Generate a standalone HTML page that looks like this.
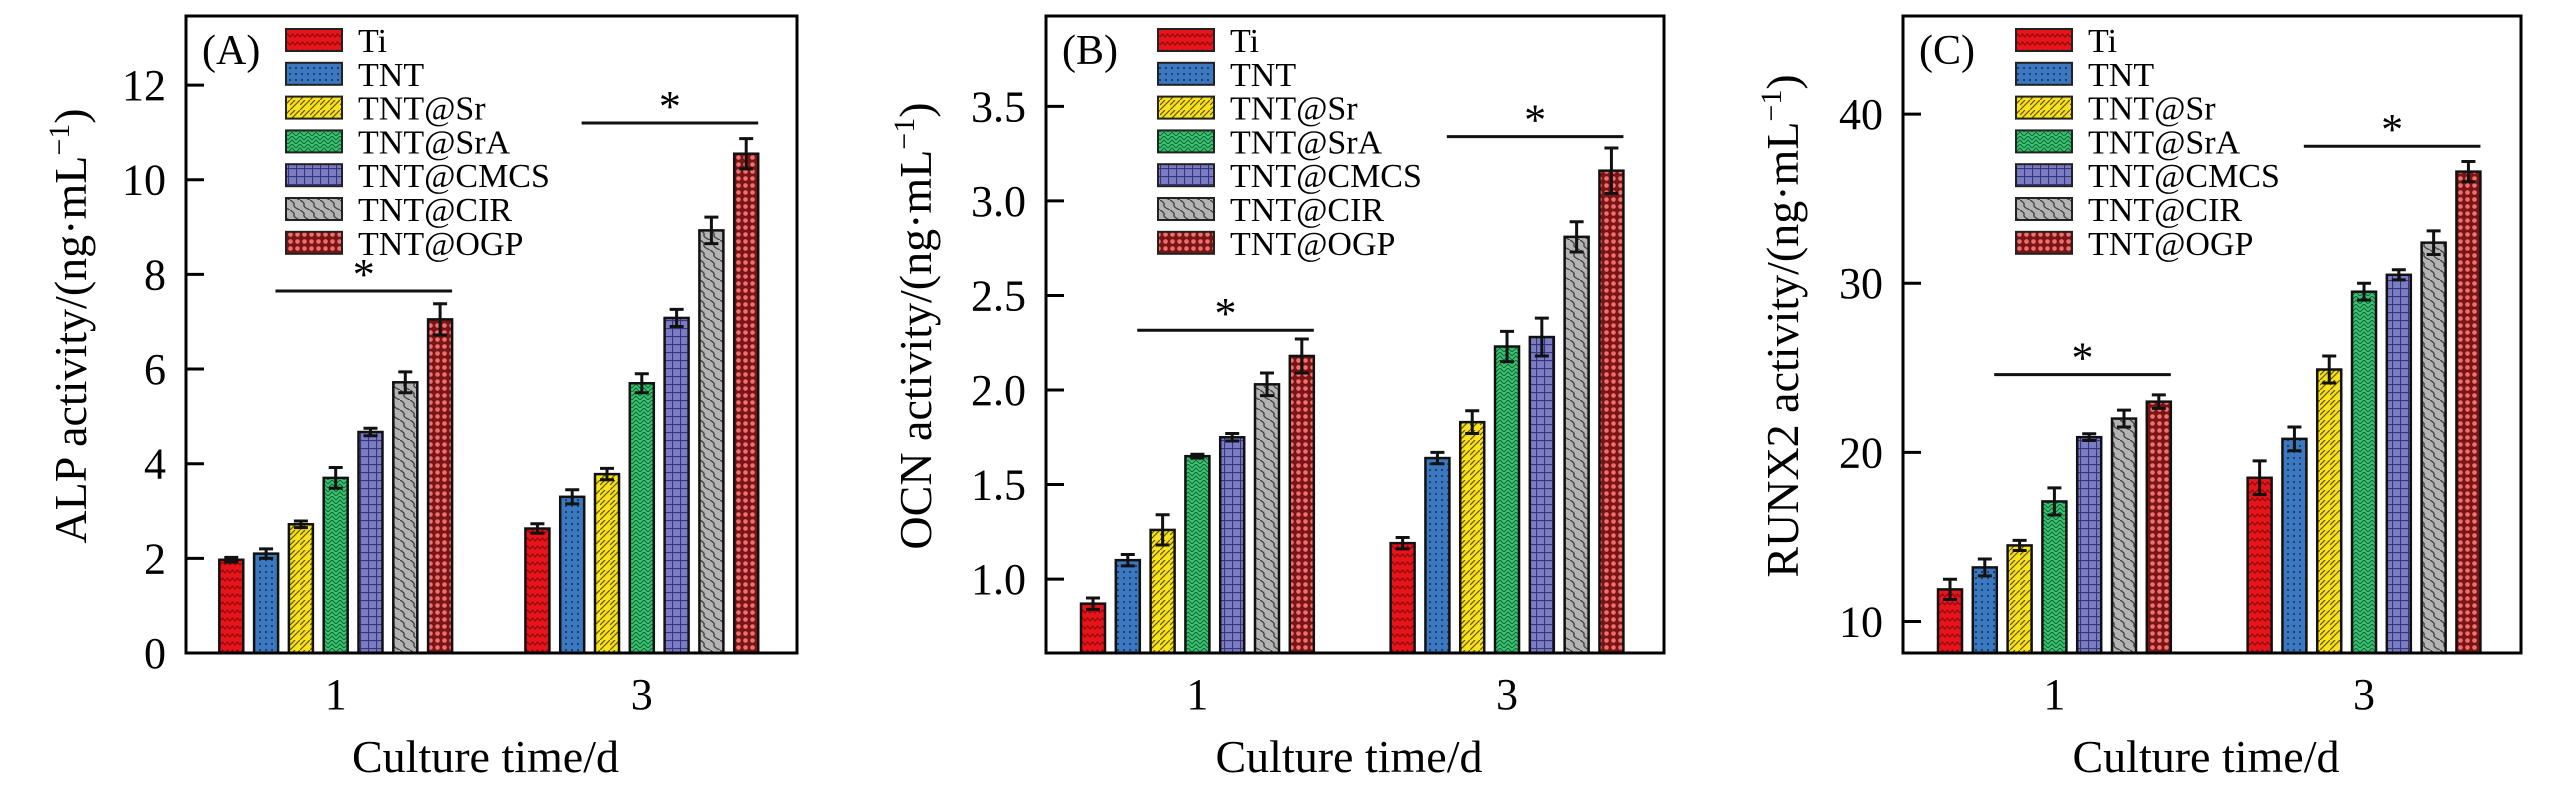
<!DOCTYPE html>
<html><head><meta charset="utf-8"><style>
html,body{margin:0;padding:0;background:#fff;}
svg{display:block;font-family:"Liberation Serif","DejaVu Serif",serif;}
</style></head><body>
<svg id="chart" width="2567" height="787" viewBox="0 0 2567 787" xmlns="http://www.w3.org/2000/svg">
<defs>
<pattern id="p0" width="10" height="8" patternUnits="userSpaceOnUse"><rect width="10" height="8" fill="#e8141c"/><path d="M0 5 L2.5 2 L5 5 L7.5 2 L10 5" stroke="#8a0a0a" stroke-width="1.2" fill="none"/></pattern>
<pattern id="p1" width="6" height="6" patternUnits="userSpaceOnUse"><rect width="6" height="6" fill="#3b78c0"/><rect x="1" y="1" width="2" height="2" fill="#1a3f70"/></pattern>
<pattern id="p2" width="10" height="10" patternUnits="userSpaceOnUse"><rect width="10" height="10" fill="#f8e21c"/><path d="M0 10 L10 0 M0 5 L5 0" stroke="#6a5a00" stroke-width="1.3"/></pattern>
<pattern id="p3" width="8" height="8" patternUnits="userSpaceOnUse"><rect width="8" height="8" fill="#3cc272"/><path d="M0 4 L4 0 L8 4 M0 8 L4 4 L8 8" stroke="#116a35" stroke-width="1.1" fill="none"/></pattern>
<pattern id="p4" width="8" height="8" patternUnits="userSpaceOnUse"><rect width="8" height="8" fill="#7b7cc4"/><path d="M0 0.5 H8 M0.5 0 V8" stroke="#35367a" stroke-width="1.2"/></pattern>
<pattern id="p5" width="10" height="10" patternUnits="userSpaceOnUse"><rect width="10" height="10" fill="#b4b4b4"/><path d="M0 0 Q5 3 4 5 T10 10" stroke="#444" stroke-width="1.4" fill="none"/></pattern>
<pattern id="p6" width="7" height="7" patternUnits="userSpaceOnUse"><rect width="7" height="7" fill="#7a1515"/><circle cx="3.5" cy="3.5" r="2.3" fill="#f07070"/></pattern>
</defs>
</svg>
<script>
const groupLabels = ["1", "3"];
const seriesNames = ["Ti","TNT","TNT@Sr","TNT@SrA","TNT@CMCS","TNT@CIR","TNT@OGP"];
const alpDay1 = [1.97, 2.10, 2.72, 3.70, 4.67, 5.72, 7.05];
const alpDay3 = [2.63, 3.30, 3.78, 5.70, 7.08, 8.93, 10.55];
const alpErr1 = [0.05, 0.10, 0.07, 0.22, 0.08, 0.22, 0.33];
const alpErr3 = [0.10, 0.15, 0.12, 0.20, 0.18, 0.28, 0.32];
const alpTicks = [0, 2, 4, 6, 8, 10, 12];
const ocnDay1 = [0.87, 1.10, 1.26, 1.65, 1.75, 2.03, 2.18];
const ocnDay3 = [1.19, 1.64, 1.83, 2.23, 2.28, 2.81, 3.16];
const ocnErr1 = [0.03, 0.03, 0.08, 0.01, 0.02, 0.06, 0.09];
const ocnErr3 = [0.03, 0.03, 0.06, 0.08, 0.10, 0.08, 0.12];
const ocnTicks = [1.0, 1.5, 2.0, 2.5, 3.0, 3.5];
const runDay1 = [11.9, 13.2, 14.5, 17.1, 20.9, 22.0, 23.0];
const runDay3 = [18.5, 20.8, 24.9, 29.5, 30.5, 32.4, 36.6];
const runErr1 = [0.6, 0.5, 0.3, 0.8, 0.2, 0.5, 0.4];
const runErr3 = [1.0, 0.7, 0.8, 0.5, 0.3, 0.7, 0.6];
const runTicks = [10, 20, 30, 40];
const alpSig = [7.65, 11.2];
const ocnSig = [2.316, 3.34];
const runSig = [24.6, 38.1];

const NS = "http://www.w3.org/2000/svg";
const svg = document.getElementById("chart");
function mk(tag, attrs, parent) {
  const e = document.createElementNS(NS, tag);
  for (const k in attrs) e.setAttribute(k, attrs[k]);
  (parent || svg).appendChild(e);
  return e;
}
const panels = [
  {key:"alp", letter:"(A)", title:"ALP activity/(ng·mL", x0:186, x1:797, ymin:0, ymax:13.46, d1:alpDay1, d3:alpDay3, e1:alpErr1, e3:alpErr3, ticks:alpTicks, dec:0, sig:alpSig, legX:100, titleX:71},
  {key:"ocn", letter:"(B)", title:"OCN activity/(ng·mL", x0:1046, x1:1664, ymin:0.609, ymax:3.978, d1:ocnDay1, d3:ocnDay3, e1:ocnErr1, e3:ocnErr3, ticks:ocnTicks, dec:1, sig:ocnSig, legX:112, titleX:916},
  {key:"runx2", letter:"(C)", title:"RUNX2 activity/(ng·mL", x0:1903, x1:2521, ymin:8.14, ymax:45.8, d1:runDay1, d3:runDay3, e1:runErr1, e3:runErr3, ticks:runTicks, dec:0, sig:runSig, legX:113, titleX:1783}
];
const Y0 = 653, Y1 = 16, barW = 24, barStep = 34.8;
panels.forEach(p => {
  const g = mk("g", {});
  
  
  const W = p.x1 - p.x0;
  const yS = v => Y0 - (v - p.ymin) / (p.ymax - p.ymin) * (Y0 - Y1);
  const gc = [p.x0 + W * 0.245, p.x0 + W * 0.746];
  [p.d1, p.d3].forEach((data, gi) => {
    const errs = gi === 0 ? p.e1 : p.e3;
    data.forEach((v, i) => {
      const cx = gc[gi] + (i - 3) * barStep;
      const y = yS(v);
      const r = mk("rect", {x: cx - barW/2, y: y, width: barW, height: Y0 - y, fill: "url(#p" + i + ")", stroke: "#111", "stroke-width": 2.5}, g);
      
      
      const e = errs[i];
      const eb = mk("path", {d: `M${cx} ${yS(v+e)} V${yS(v-e)} M${cx-7} ${yS(v+e)} H${cx+7} M${cx-7} ${yS(v-e)} H${cx+7}`, stroke: "#111", "stroke-width": 3, fill: "none"}, g);
      
      
    });
    const sy = yS(p.sig[gi]);
    const sx0 = gc[gi] - 1.5 * barStep - 8, sx1 = gc[gi] + 3 * barStep + 12;
    const sl = mk("line", {x1: sx0, x2: sx1, y1: sy, y2: sy, stroke: "#111", "stroke-width": 3}, g);
    
    
    const st = mk("text", {x: (sx0 + sx1) / 2, y: sy - 2, "font-size": 44, "text-anchor": "middle"}, g);
    st.textContent = "*";
    
    
    const xl = mk("text", {x: gc[gi], y: 709, "font-size": 44, "text-anchor": "middle"}, g);
    xl.textContent = groupLabels[gi];
    
    
  });
  const fr = mk("rect", {x: p.x0, y: Y1, width: W, height: Y0 - Y1, fill: "none", stroke: "#000", "stroke-width": 3}, g);
  
  
  p.ticks.forEach(t => {
    const y = yS(t);
    const tk = mk("line", {x1: p.x0, x2: p.x0 + 18, y1: y, y2: y, stroke: "#000", "stroke-width": 3}, g);
    
    
    const tl = mk("text", {x: p.x0 - 20, y: y + 15, "font-size": 44, "text-anchor": "end"}, g);
    tl.textContent = t.toFixed(p.dec);
    
    
  });
  const yt = mk("text", {x: 0, y: 0, "font-size": 46, "text-anchor": "middle", transform: `translate(${p.titleX + 15},326) rotate(-90)`}, g);
  
  
  yt.appendChild(document.createTextNode(p.title));
  const sup = mk("tspan", {"font-size": 30, dy: -17}, yt);
  sup.textContent = "−1";
  const cl = mk("tspan", {dy: 17}, yt);
  cl.textContent = ")";
  const xt = mk("text", {x: p.x0 + W / 2 - 6, y: 772, "font-size": 46, "text-anchor": "middle"}, g);
  xt.textContent = "Culture time/d";
  
  
  const pl = mk("text", {x: p.x0 + 16, y: 64, "font-size": 42}, g);
  pl.textContent = p.letter;
  
  
  seriesNames.forEach((n, i) => {
    const ly = 40 + i * 33.8;
    const lr = mk("rect", {x: p.x0 + p.legX, y: ly - 11, width: 56, height: 22, fill: "url(#p" + i + ")", stroke: "#222", "stroke-width": 2}, g);
    
    
    const lt = mk("text", {x: p.x0 + p.legX + 72, y: ly + 12, "font-size": 34}, g);
    lt.textContent = n;
    
    
  });
});
</script>
</body></html>
